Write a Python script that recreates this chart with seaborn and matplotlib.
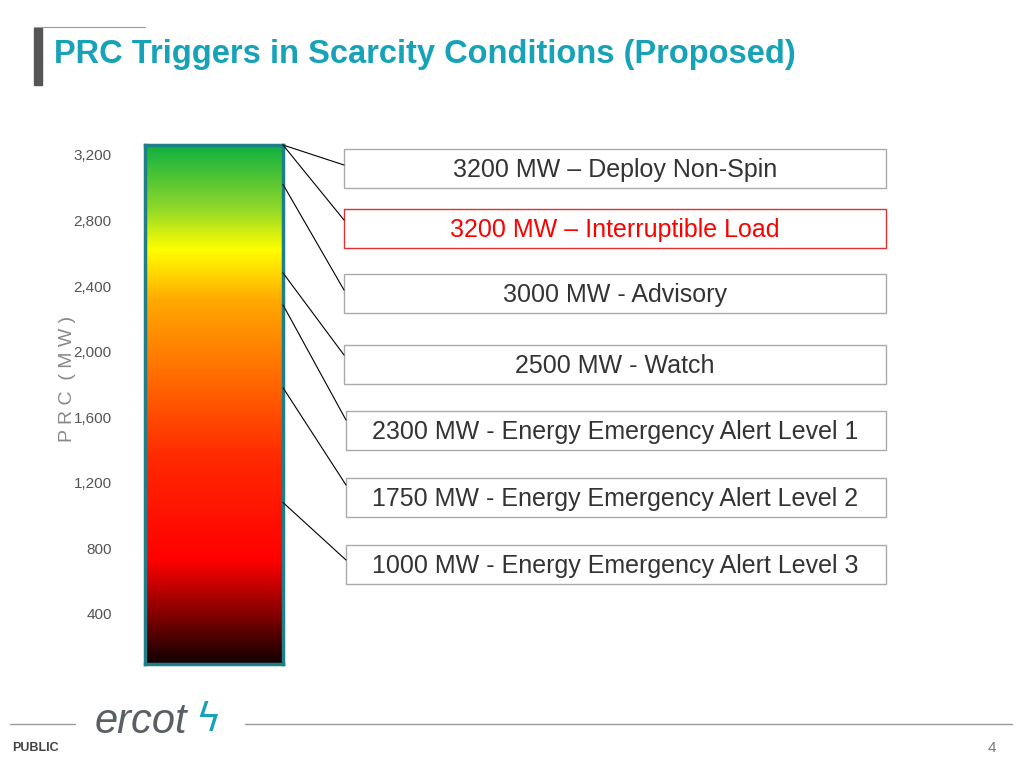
import numpy as np
import matplotlib
matplotlib.use("Agg")
import matplotlib.pyplot as plt
import seaborn as sns
from matplotlib.colors import LinearSegmentedColormap
from matplotlib.patches import Rectangle, ConnectionPatch

sns.set_style("white")
plt.rcParams["font.family"] = "Liberation Sans"

# data
tick_values = [400, 800, 1200, 1600, 2000, 2400, 2800, 3200]
tick_labels = ["400", "800", "1,200", "1,600", "2,000", "2,400", "2,800", "3,200"]
trigger_labels = ["3200 MW \u2013 Deploy Non-Spin", "3200 MW \u2013 Interruptible Load",
                  "3000 MW - Advisory", "2500 MW - Watch",
                  "2300 MW - Energy Emergency Alert Level 1",
                  "1750 MW - Energy Emergency Alert Level 2",
                  "1000 MW - Energy Emergency Alert Level 3"]
# where each leader line leaves the bar (MW scale)
anchor_values = [3260, 3260, 3020, 2480, 2285, 1780, 1080]
y_min, y_max = 95, 3260

fig = plt.figure(figsize=(10.24, 7.68), dpi=100)

# gradient bar
ax = fig.add_axes([145/1024, 1-664/768, 138/1024, 519/768])
cmap = LinearSegmentedColormap.from_list("prc", [
    (0.0, "#120000"), (0.1, "#8a0000"), (0.2, "#ff0000"), (0.4, "#ff2a00"),
    (0.55, "#ff6a00"), (0.7, "#ffa800"), (0.8, "#ffff00"), (0.88, "#8ed82a"),
    (1.0, "#10b040")])
grad = np.linspace(0, 1, 256).reshape(-1, 1)
ax.imshow(grad, aspect="auto", cmap=cmap, origin="lower",
          extent=[0, 1, y_min, y_max])
ax.set_xlim(0, 1)
ax.set_ylim(y_min, y_max)
ax.set_xticks([])
ax.set_yticks(tick_values)
ax.set_yticklabels(tick_labels, color="#555555", fontsize=11)
ax.tick_params(axis="y", length=0, pad=24)
for s in ax.spines.values():
    s.set_color("#1f7f88")
    s.set_linewidth(2.5)
ax.set_ylabel("P R C  ( M W )", color="#888888", fontsize=14)
ax.yaxis.set_label_coords(-0.5, 0.55)

# overlay in pixel space for boxes and decoration
ov = fig.add_axes([0, 0, 1, 1], zorder=-1)
ov.set_xlim(0, 1024)
ov.set_ylim(768, 0)
ov.axis("off")

boxes = [(344, 149), (344, 209), (344, 274), (344, 345), (346, 411), (346, 478), (346, 545)]
ends = [165, 220, 290, 355, 420, 485, 560]
for i, (lab, (bx, by)) in enumerate(zip(trigger_labels, boxes)):
    red = i == 1
    ov.add_patch(Rectangle((bx, by), 886 - bx, 39, facecolor="white",
                           edgecolor="#e03030" if red else "#aaaaaa", lw=1))
    ov.text(615, by + 21, lab, ha="center", va="center", fontsize=18,
            color="#ff0000" if red else "#333333")
    con = ConnectionPatch(xyA=(1, anchor_values[i]), coordsA=ax.transData,
                          xyB=(bx, ends[i]), coordsB=ov.transData,
                          color="black", lw=0.8)
    fig.add_artist(con)

# title and decoration
ov.add_patch(Rectangle((34, 28), 8, 57, color="#555555"))
ov.plot([34, 145], [27, 27], color="#999999", lw=0.8)
ov.text(54, 55, "PRC Triggers in Scarcity Conditions (Proposed)", fontsize=23.5,
        fontweight="bold", color="#17a2b8", va="center")
ov.plot([10, 75], [724, 724], color="#999999", lw=1)
ov.plot([245, 1012], [724, 724], color="#999999", lw=1)
ov.text(12, 748, "PUBLIC", fontsize=9, fontweight="bold", color="#444444", va="center")
ov.text(95, 722, "ercot", fontsize=30, style="italic", color="#5a5f66", va="center")
ov.text(195, 720, "\u03df", fontsize=28, color="#17a2b8", va="center",
        fontfamily="DejaVu Sans")
ov.text(988, 748, "4", fontsize=11, color="#777777", va="center")

fig.savefig("out.png", dpi=100)
